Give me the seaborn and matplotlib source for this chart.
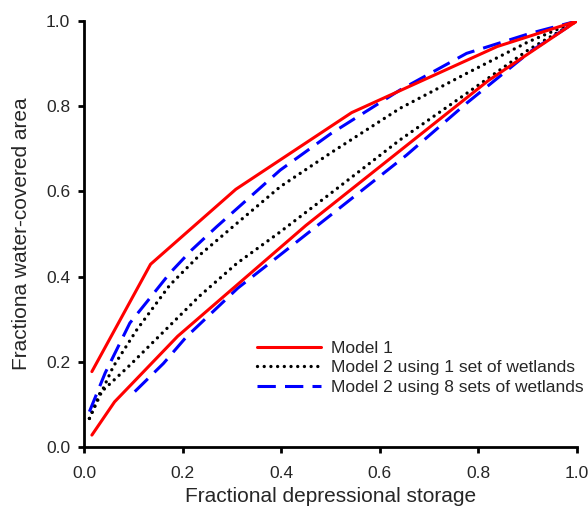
import numpy as np
import seaborn as sns
import matplotlib.pyplot as plt
from matplotlib.lines import Line2D

# Model 1 (two branches of the loop)
m1_up_x = [0.016, 0.135, 0.308, 0.543, 0.838, 1.0]
m1_up_y = [0.177, 0.429, 0.605, 0.785, 0.940, 1.0]
m1_lo_x = [0.016, 0.062, 0.19, 0.45, 0.82, 1.0]
m1_lo_y = [0.028, 0.106, 0.26, 0.52, 0.86, 1.0]

# Model 2 using 1 set of wetlands
m2a_up_x = [0.011, 0.059, 0.107, 0.174, 0.235, 0.31, 0.398, 0.5, 0.641, 0.776, 0.901, 1.0]
m2a_up_y = [0.067, 0.188, 0.275, 0.38, 0.451, 0.525, 0.611, 0.69, 0.795, 0.877, 0.951, 1.0]
m2a_lo_x = [0.011, 0.032, 0.093, 0.174, 0.235, 0.31, 0.398, 0.5, 0.641, 0.776, 0.901, 1.0]
m2a_lo_y = [0.067, 0.126, 0.192, 0.285, 0.355, 0.431, 0.505, 0.595, 0.721, 0.83, 0.932, 1.0]

# Model 2 using 8 sets of wetlands
m2b_up_x = [0.011, 0.043, 0.093, 0.134, 0.174, 0.218, 0.269, 0.398, 0.5, 0.641, 0.776, 0.905, 1.0]
m2b_up_y = [0.083, 0.174, 0.291, 0.35, 0.408, 0.462, 0.517, 0.65, 0.735, 0.838, 0.924, 0.971, 1.0]
m2b_lo_x = [0.103, 0.161, 0.208, 0.312, 0.398, 0.5, 0.654, 0.776, 0.905, 1.0]
m2b_lo_y = [0.13, 0.196, 0.259, 0.373, 0.451, 0.544, 0.685, 0.807, 0.928, 1.0]

labels = ["Model 1", "Model 2 using 1 set of wetlands", "Model 2 using 8 sets of wetlands"]

sns.set_style("ticks")
plt.rcParams['font.family'] = ['Liberation Sans', 'DejaVu Sans']

fig = plt.figure(figsize=(5.88, 5.07), dpi=100)
ax = fig.add_axes([84/588, 60/507, 493/588, 426/507])

red = dict(color='red', lw=2.2, linestyle='-')
dot = dict(color='black', lw=2.4, linestyle=(0, (0.01, 2.0)), dash_capstyle='round')
blue = dict(color='blue', lw=2.2, linestyle=(0, (6, 3)))

for xs, ys, st in [(m2a_up_x, m2a_up_y, dot), (m2a_lo_x, m2a_lo_y, dot),
                   (m2b_up_x, m2b_up_y, blue), (m2b_lo_x, m2b_lo_y, blue),
                   (m1_up_x, m1_up_y, red), (m1_lo_x, m1_lo_y, red)]:
    sns.lineplot(x=xs, y=ys, sort=False, estimator=None, ax=ax, **st)

ax.set_xlim(0, 1)
ax.set_ylim(0, 1)
ax.set_xticks(np.arange(0, 1.01, 0.2))
ax.set_yticks(np.arange(0, 1.01, 0.2))
ax.xaxis.set_major_formatter(plt.FormatStrFormatter('%.1f'))
ax.yaxis.set_major_formatter(plt.FormatStrFormatter('%.1f'))
ax.tick_params(labelsize=12.5, width=2, length=4.5, color='black')
ax.tick_params(axis='x', pad=9)
ax.tick_params(axis='y', pad=5.5)
for s in ['left', 'bottom']:
    ax.spines[s].set_linewidth(2)
    ax.spines[s].set_color('black')
sns.despine(ax=ax)

ax.set_xlabel("Fractional depressional storage", fontsize=15, labelpad=4.5)
ax.set_ylabel("Fractiona water-covered area", fontsize=15, labelpad=11)

handles = [Line2D([], [], **red), Line2D([], [], **dot), Line2D([], [], **blue)]
ax.legend(handles, labels, loc='upper left', bbox_to_anchor=(0.351, 0.25),
          frameon=False, fontsize=12.5, handlelength=3.7, handletextpad=0.55,
          labelspacing=0.27, borderpad=0, borderaxespad=0)

fig.savefig("out.png", dpi=100)
